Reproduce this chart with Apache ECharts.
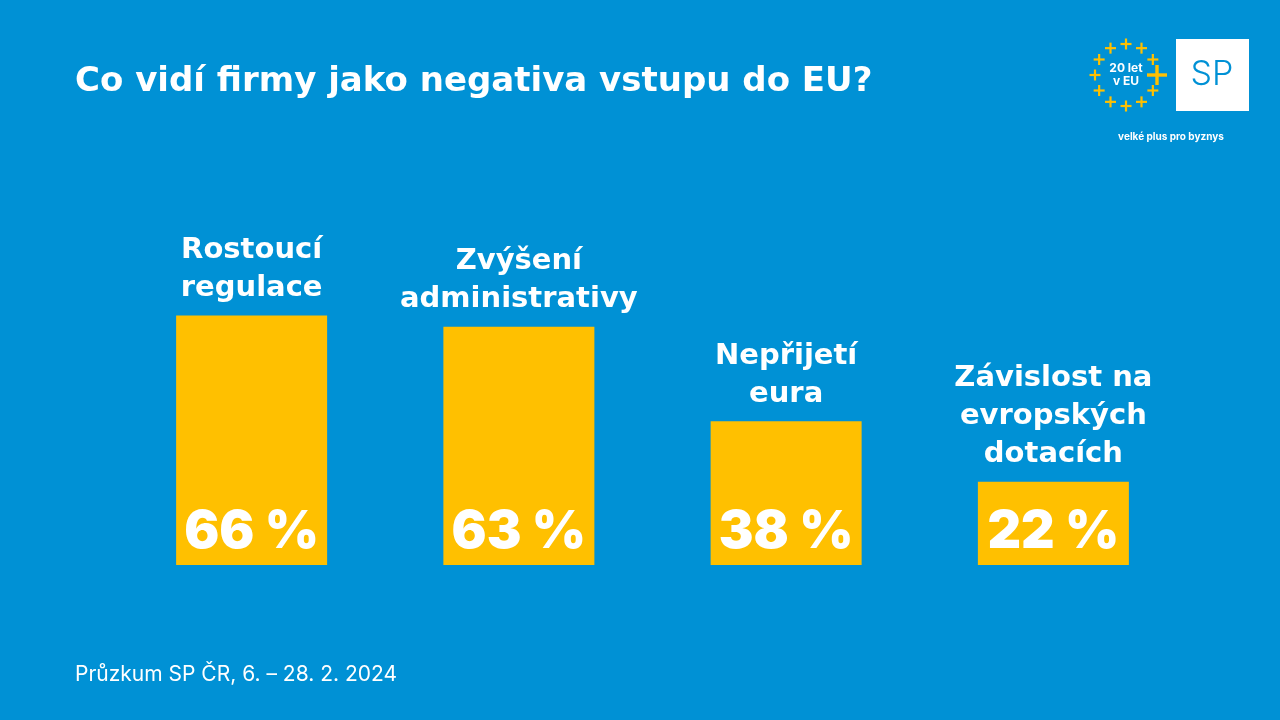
<!DOCTYPE html>
<html><head><meta charset="utf-8">
<style>html,body{margin:0;padding:0;background:#0091D5;}#c{width:1280px;height:720px;}</style>
<script src="https://cdn.jsdelivr.net/npm/echarts@6/dist/echarts.min.js"></script>
</head><body><div id="c"></div>
<script>
const categories = ["Rostoucí\nregulace", "Zvýšení\nadministrativy", "Nepřijetí\neura", "Závislost na\nevropských\ndotacích"];
const values = [66, 63, 38, 22];
const valueLabels = ["66 %", "63 %", "38 %", "22 %"];
const title = "Co vidí firmy jako negativa vstupu do EU?";
const footer = "Průzkum SP ČR, 6. – 28. 2. 2024";

const chart = echarts.init(document.getElementById('c'));
const BLUE = '#0091D5', YEL = '#FFC000';
const FONT = 'Inter, "Open Sans", sans-serif';
const WIDE = '"DejaVu Sans", Inter, sans-serif';

// logo plus-signs
const logoGraphics = [];
const cx = 1126, cy = 75, R = 31;
for (let i = 0; i < 12; i++) {
  const a = i * Math.PI / 6;
  const x = cx + R * Math.cos(a), y = cy + R * Math.sin(a);
  const big = i === 0;
  const s = big ? 10 : 5.5, t = big ? 3.4 : 2.2;
  logoGraphics.push({type:'rect', shape:{x:x - s, y:y - t/2, width:2*s, height:t}, style:{fill:YEL}});
  logoGraphics.push({type:'rect', shape:{x:x - t/2, y:y - s, width:t, height:2*s}, style:{fill:YEL}});
}

chart.setOption({
  backgroundColor: BLUE,
  animation: false,
  title: {text: title, left: 70, top: 60, textStyle:{color:'#fff', fontSize:34, fontWeight:'bold', fontFamily: WIDE}},
  grid: {left: 118, right: 93, top: 187, bottom: 155},
  xAxis: {type:'category', data: categories, show:false},
  yAxis: {type:'value', min:0, max:100, show:false},
  series: [
    {type:'bar', data: values, barWidth:151, itemStyle:{color:YEL},
     label:{show:true, position:'top', distance:8, color:'#fff', fontSize:29, fontWeight:'bold', lineHeight:38, fontFamily:WIDE,
            formatter: p => categories[p.dataIndex]}},
    {type:'bar', data: values, barWidth:151, barGap:'-100%', itemStyle:{color:'rgba(0,0,0,0)'},
     label:{show:true, position:'insideBottom', distance:7, color:'#fff', fontSize:52, fontWeight:900, fontFamily:FONT,
            formatter: p => valueLabels[p.dataIndex]}}
  ],
  graphic: [
    {type:'text', left:75, top:664, style:{text: footer, fill:'#fff', fontSize:21, fontFamily:FONT}},
    {type:'rect', shape:{x:1176, y:39, width:73, height:72}, style:{fill:'#fff'}},
    {type:'text', x:1212, y:75, style:{text:'SP', fill:BLUE, fontSize:34, fontWeight:300, fontFamily:FONT, align:'center', verticalAlign:'middle'}},
    {type:'text', x:1126, y:75, style:{text:'20 let\nv EU', fill:'#fff', fontSize:12, fontWeight:'bold', lineHeight:13, fontFamily:FONT, align:'center', verticalAlign:'middle'}},
    {type:'text', x:1171, y:137, style:{text:'velké plus pro byznys', fill:'#fff', fontSize:10, fontWeight:'bold', fontFamily:FONT, align:'center', verticalAlign:'middle'}}
  ].concat(logoGraphics)
});
</script></body></html>
